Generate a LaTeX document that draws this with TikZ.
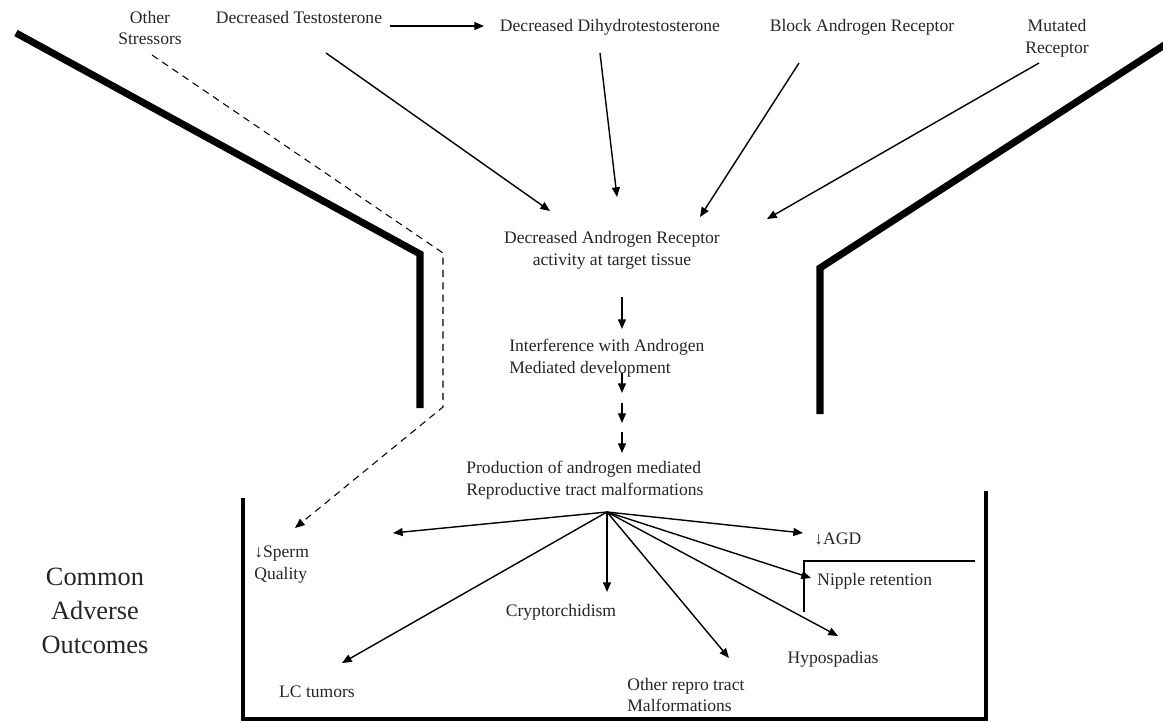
\documentclass[tikz,border=0pt]{standalone}
\usepackage{fontspec}
\setmainfont{Liberation Serif}
\usetikzlibrary{arrows.meta}
\begin{document}
\begin{tikzpicture}[x=0.02cm,y=-0.02cm,
  lbl/.style={inner sep=0pt,font=\fontsize{10}{12.5}\selectfont,text=black!85},
  big/.style={inner sep=0pt,font=\fontsize{15}{19.5}\selectfont,text=black!85,align=center},
  arr/.style={line width=0.8pt,-{Triangle[length=5.5pt,width=4.5pt]}},
  dasharr/.style={line width=0.6pt,dash pattern=on 4pt off 3pt,-{Triangle[length=5.5pt,width=4.5pt]}},
  wall/.style={line width=4pt,line join=miter},
  boxline/.style={line width=2.4pt,line join=miter},
  thin/.style={line width=0.6pt}]
\useasboundingbox (0,0) rectangle (1163,723);
% labels
\node[lbl,align=center] (stress) at (150,28) {Other\\Stressors};
\node[lbl] (testo) at (299,17) {Decreased Testosterone};
\node[lbl] (dht) at (610,27) {Decreased Dihydrotestosterone};
\node[lbl] (block) at (862,27) {Block Androgen Receptor};
\node[lbl,align=center] (mut) at (1057,38) {Mutated\\Receptor};
\node[lbl,align=center] (darat) at (612,250) {Decreased Androgen Receptor\\activity at target tissue};
\node[lbl,align=left,anchor=west] (interf) at (509,358) {Interference with Androgen\\Mediated development};
\node[lbl,align=left,anchor=west] (prod) at (466,480) {Production of androgen mediated\\Reproductive tract malformations};
\node[lbl,align=left,anchor=west] (sperm) at (254,565) {↓Sperm\\Quality};
\node[lbl] (lc) at (317,692) {LC tumors};
\node[lbl] (crypt) at (561,612) {Cryptorchidism};
\node[lbl,align=left,anchor=west] (other) at (627,695) {Other repro tract\\Malformations};
\node[lbl,anchor=west] (agd) at (814,539) {↓AGD};
\node[lbl,anchor=west] (nip) at (817,581) {Nipple retention};
\node[lbl] (hypo) at (833,659) {Hypospadias};
\node[big] (cao) at (95,611) {Common\\Adverse\\Outcomes};
% coordinates
\coordinate (t0) at (390,26); \coordinate (t1) at (484,26);
\coordinate (s2) at (326,53); \coordinate (e2) at (550,211);
\coordinate (s3) at (600,53); \coordinate (e3) at (617,197);
\coordinate (s4) at (799,63); \coordinate (e4) at (700,217);
\coordinate (s5) at (1039,63); \coordinate (e5) at (767,219);
\coordinate (s6) at (622,297); \coordinate (e6) at (622,329);
\coordinate (s7) at (622,373); \coordinate (e7) at (622,393);
\coordinate (s8) at (622,403); \coordinate (e8) at (622,423);
\coordinate (s9) at (622,432); \coordinate (e9) at (622,453);
\coordinate (hub) at (607,512);
\coordinate (hs) at (393,533);
\coordinate (hl) at (342,663);
\coordinate (hc) at (607,592);
\coordinate (ho) at (729,658);
\coordinate (ha) at (803,533);
\coordinate (hn) at (811,578);
\coordinate (hh) at (838,636);
\coordinate (d0) at (152,55); \coordinate (d1) at (443,253); \coordinate (d2) at (443,407); \coordinate (d3) at (295,528);
% connectors
\draw[arr] (t0) -- (t1);
\draw[arr] (s2) -- (e2);
\draw[arr] (s3) -- (e3);
\draw[arr] (s4) -- (e4);
\draw[arr] (s5) -- (e5);
\draw[arr] (s6) -- (e6);
\draw[arr] (s7) -- (e7);
\draw[arr] (s8) -- (e8);
\draw[arr] (s9) -- (e9);
\foreach \t in {hs,hl,hc,ho,ha,hn,hh} \draw[arr] (hub) -- (\t);
\draw[dasharr] (d0) -- (d1) -- (d2) -- (d3);
% walls
\draw[wall] (16,33) -- (420,254) -- (420,408);
\draw[wall] (1166,44) -- (820,268) -- (820,414);
% box
\draw[boxline] (243,498) -- (243,719) -- (986,719) -- (986,491);
% nipple bracket
\draw[thin] (804,612) -- (804,561) -- (975,561);
\end{tikzpicture}
\end{document}
